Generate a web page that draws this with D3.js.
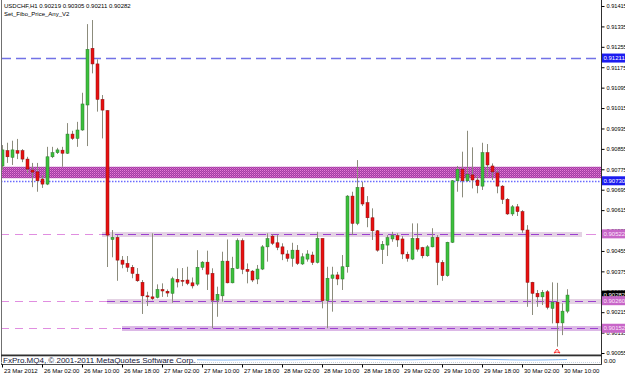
<!DOCTYPE html>
<html>
<head>
<meta charset="utf-8">
<script src="https://cdn.jsdelivr.net/npm/d3@7/dist/d3.min.js"></script>
<style>
  body { margin: 0; background: #fff; }
  svg { display: block; font-family: "Liberation Sans", Arial, sans-serif; }
</style>
</head>
<body>
<div id="chart"></div>
<script>
// USDCHF H1 bars, 23 Mar 18:00 .. 30 Mar 11:00
const opens = [
  0.90788, 0.90848, 0.90822, 0.90848, 0.90848, 0.90815, 0.90772, 0.90765, 0.90737, 0.90717,
  0.90824, 0.90840, 0.90850, 0.90838, 0.90913, 0.90896, 0.90929, 0.91027, 0.91249, 0.91188,
  0.91049, 0.91005, 0.90500, 0.90508, 0.90419, 0.90406, 0.90391, 0.90364, 0.90332, 0.90279,
  0.90275, 0.90273, 0.90304, 0.90297, 0.90289, 0.90344, 0.90340, 0.90341, 0.90330, 0.90325,
  0.90391, 0.90411, 0.90367, 0.90262, 0.90279, 0.90415, 0.90330, 0.90387, 0.90495, 0.90383,
  0.90376, 0.90345, 0.90384, 0.90471, 0.90513, 0.90487, 0.90471, 0.90443, 0.90426, 0.90458,
  0.90404, 0.90423, 0.90439, 0.90410, 0.90504, 0.90260, 0.90348, 0.90361, 0.90345, 0.90393,
  0.90670, 0.90563, 0.90704, 0.90644, 0.90585, 0.90534, 0.90461, 0.90478, 0.90502, 0.90515,
  0.90502, 0.90442, 0.90423, 0.90504, 0.90468, 0.90436, 0.90471, 0.90508, 0.90410, 0.90358,
  0.90489, 0.90730, 0.90775, 0.90730, 0.90753, 0.90733, 0.90709, 0.90840, 0.90788, 0.90761,
  0.90709, 0.90657, 0.90600, 0.90628, 0.90609, 0.90537, 0.90332, 0.90289, 0.90275, 0.90295,
  0.90230, 0.90254, 0.90173, 0.90219
]
const highs = [
  0.90870, 0.90879, 0.90887, 0.90894, 0.90854, 0.90824, 0.90800, 0.90800, 0.90752, 0.90863,
  0.90863, 0.90859, 0.90863, 0.90956, 0.90926, 0.90961, 0.91075, 0.91344, 0.91360, 0.91206,
  0.91066, 0.91007, 0.90537, 0.90517, 0.90435, 0.90435, 0.90400, 0.90388, 0.90341, 0.90295,
  0.90524, 0.90324, 0.90328, 0.90304, 0.90354, 0.90387, 0.90388, 0.90393, 0.90351, 0.90458,
  0.90415, 0.90456, 0.90387, 0.90315, 0.90452, 0.90500, 0.90432, 0.90504, 0.90504, 0.90406,
  0.90380, 0.90400, 0.90478, 0.90524, 0.90521, 0.90517, 0.90485, 0.90458, 0.90487, 0.90478,
  0.90446, 0.90458, 0.90452, 0.90530, 0.90504, 0.90393, 0.90393, 0.90373, 0.90439, 0.90674,
  0.90687, 0.90811, 0.90726, 0.90670, 0.90622, 0.90537, 0.90494, 0.90517, 0.90530, 0.90524,
  0.90513, 0.90452, 0.90563, 0.90563, 0.90471, 0.90478, 0.90544, 0.90517, 0.90419, 0.90491,
  0.90733, 0.90788, 0.90844, 0.90926, 0.90861, 0.90749, 0.90879, 0.90874, 0.90798, 0.90772,
  0.90713, 0.90662, 0.90635, 0.90639, 0.90615, 0.90556, 0.90334, 0.90302, 0.90302, 0.90302,
  0.90332, 0.90330, 0.90250, 0.90305
]
const lows = [
  0.90772, 0.90800, 0.90792, 0.90815, 0.90803, 0.90760, 0.90705, 0.90687, 0.90702, 0.90713,
  0.90819, 0.90835, 0.90785, 0.90835, 0.90890, 0.90863, 0.90926, 0.90866, 0.91151, 0.91001,
  0.90896, 0.90392, 0.90430, 0.90338, 0.90387, 0.90373, 0.90348, 0.90334, 0.90208, 0.90239,
  0.90262, 0.90269, 0.90275, 0.90275, 0.90252, 0.90312, 0.90317, 0.90321, 0.90308, 0.90318,
  0.90380, 0.90302, 0.90152, 0.90197, 0.90256, 0.90328, 0.90328, 0.90384, 0.90364, 0.90328,
  0.90333, 0.90325, 0.90380, 0.90413, 0.90478, 0.90458, 0.90419, 0.90413, 0.90393, 0.90400,
  0.90400, 0.90413, 0.90400, 0.90406, 0.90230, 0.90152, 0.90217, 0.90321, 0.90302, 0.90370,
  0.90517, 0.90556, 0.90631, 0.90548, 0.90498, 0.90452, 0.90404, 0.90435, 0.90491, 0.90471,
  0.90423, 0.90413, 0.90419, 0.90452, 0.90426, 0.90432, 0.90469, 0.90321, 0.90338, 0.90354,
  0.90486, 0.90687, 0.90665, 0.90726, 0.90700, 0.90681, 0.90694, 0.90746, 0.90733, 0.90681,
  0.90639, 0.90596, 0.90592, 0.90592, 0.90526, 0.90236, 0.90204, 0.90236, 0.90243, 0.90226,
  0.90171, 0.90080, 0.90125, 0.90211
]
const closes = [
  0.90851, 0.90824, 0.90851, 0.90838, 0.90815, 0.90776, 0.90764, 0.90730, 0.90717, 0.90824,
  0.90840, 0.90851, 0.90838, 0.90913, 0.90896, 0.90929, 0.91031, 0.91245, 0.91188, 0.91049,
  0.91007, 0.90517, 0.90508, 0.90419, 0.90403, 0.90391, 0.90367, 0.90338, 0.90279, 0.90275,
  0.90268, 0.90304, 0.90298, 0.90290, 0.90346, 0.90333, 0.90336, 0.90328, 0.90318, 0.90391,
  0.90411, 0.90364, 0.90262, 0.90285, 0.90415, 0.90330, 0.90387, 0.90495, 0.90383, 0.90375,
  0.90341, 0.90384, 0.90471, 0.90503, 0.90485, 0.90469, 0.90443, 0.90426, 0.90458, 0.90406,
  0.90432, 0.90443, 0.90410, 0.90504, 0.90260, 0.90348, 0.90361, 0.90345, 0.90393, 0.90670,
  0.90563, 0.90704, 0.90639, 0.90585, 0.90534, 0.90458, 0.90481, 0.90507, 0.90515, 0.90498,
  0.90443, 0.90426, 0.90504, 0.90462, 0.90436, 0.90471, 0.90508, 0.90410, 0.90358, 0.90489,
  0.90730, 0.90775, 0.90730, 0.90755, 0.90733, 0.90711, 0.90840, 0.90792, 0.90765, 0.90709,
  0.90657, 0.90600, 0.90628, 0.90609, 0.90537, 0.90332, 0.90289, 0.90275, 0.90293, 0.90234,
  0.90254, 0.90173, 0.90219, 0.90282
]

const timeTickBars = [0, 8, 16, 24, 32, 40, 48, 56, 64, 72, 80, 88, 96, 104, 112]
const timeLabels = ["23 Mar 2012", "26 Mar 02:00", "26 Mar 10:00", "26 Mar 18:00", "27 Mar 02:00",
  "27 Mar 10:00", "27 Mar 18:00", "28 Mar 02:00", "28 Mar 10:00", "28 Mar 18:00", "29 Mar 02:00",
  "29 Mar 10:00", "29 Mar 18:00", "30 Mar 02:00", "30 Mar 10:00"]

const priceTicks = [0.91415, 0.91335, 0.91255, 0.91175, 0.91095, 0.91015, 0.90935, 0.90855, 0.90775,
  0.90695, 0.90615, 0.90535, 0.90455, 0.90375, 0.90295, 0.90215, 0.90135, 0.90055]

// Set_Fibo_Price_Any levels
const zoneTop = 0.90785
const zoneBottom = 0.90740
const blueDashPrice = 0.91211
const blueDotPrice = 0.90730
const fiboPrices = [0.90522, 0.90260, 0.90152]
const fiboStartBars = [20, 21, 24]
const fiboEndBars = [116, 120, 120]
const bidPrice = 0.90282

// indicator sub-window (readings)
const indBars = [39, 45, 52, 58, 64, 70, 76, 82, 88, 94, 100, 106, 113]
const indValues = [0.45, 0.35, 0.5, 0.4, 0.55, 0.65, 0.45, 0.4, 0.6, 0.65, 0.45, 0.35, 0.5]

const W = 625, H = 375
const plotLeft = 1, plotRight = 601, plotBottom = 355

const svg = d3.select("#chart")
  .append("svg")
  .attr("width", W)
  .attr("height", H)

svg.append("rect").attr("width", W).attr("height", H).attr("fill", "#fff")

const defs = svg.append("defs")
const pat = defs.append("pattern")
  .attr("id", "zonePat")
  .attr("width", 2).attr("height", 2)
  .attr("patternUnits", "userSpaceOnUse")
pat.append("rect").attr("width", 2).attr("height", 2).attr("fill", "#a23ea4")
pat.append("rect").attr("width", 1).attr("height", 1).attr("fill", "#e67ad6")
pat.append("rect").attr("x", 1).attr("y", 1).attr("width", 1).attr("height", 1).attr("fill", "#c257bb")

defs.append("clipPath").attr("id", "plotClip")
  .append("rect")
  .attr("x", plotLeft).attr("y", 0)
  .attr("width", plotRight - plotLeft).attr("height", plotBottom)

const x = d3.scaleLinear().domain([0, 113]).range([2, 567])
const y = d3.scaleLinear().domain([0.90055, 0.91415]).range([353, 6])

const plot = svg.append("g").attr("clip-path", "url(#plotClip)")

// resistance zone
plot.append("rect")
  .attr("x", plotLeft)
  .attr("y", y(zoneTop))
  .attr("width", plotRight - plotLeft)
  .attr("height", y(zoneBottom) - y(zoneTop))
  .attr("fill", "url(#zonePat)")

plot.append("line")
  .attr("x1", plotLeft).attr("x2", plotRight)
  .attr("y1", Math.round(y(blueDotPrice)) + 0.5).attr("y2", Math.round(y(blueDotPrice)) + 0.5)
  .attr("stroke", "#6a6aff").attr("stroke-width", 1.6)
  .attr("stroke-dasharray", "1.5,1.5")

plot.append("line")
  .attr("x1", plotLeft).attr("x2", plotRight)
  .attr("y1", Math.round(y(blueDashPrice)) + 0.5).attr("y2", Math.round(y(blueDashPrice)) + 0.5)
  .attr("stroke", "#7272e6").attr("stroke-width", 1.3)
  .attr("stroke-dasharray", "10,5")

// fibo levels: thin pink dashes, then banded purple dashes
fiboPrices.forEach((p, k) => {
  const yy = Math.round(y(p)) + 0.5
  const xs = x(fiboStartBars[k])
  const xe = Math.min(x(fiboEndBars[k]), plotRight)
  plot.append("line")
    .attr("x1", plotLeft).attr("x2", xs)
    .attr("y1", yy).attr("y2", yy)
    .attr("stroke", "#e08ee0").attr("stroke-width", 1)
    .attr("stroke-dasharray", "8,6")
  plot.append("rect")
    .attr("x", xs).attr("y", yy - 2.5)
    .attr("width", xe - xs).attr("height", 5)
    .attr("fill", k === 2 ? "#dcb8e6" : "#e4d2e4")
  plot.append("line")
    .attr("x1", xs).attr("x2", xe)
    .attr("y1", yy).attr("y2", yy)
    .attr("stroke", "#9b3fd0").attr("stroke-width", 1.2)
    .attr("stroke-dasharray", "8,5")
  if (xe < plotRight) {
    plot.append("line")
      .attr("x1", xe + 4).attr("x2", plotRight)
      .attr("y1", yy).attr("y2", yy)
      .attr("stroke", "#e08ee0").attr("stroke-width", 1)
      .attr("stroke-dasharray", "10,6")
  }
})

// candles
const bars = d3.range(opens.length)
const up = i => closes[i] >= opens[i]

plot.selectAll(".wick")
  .data(bars)
  .join("line")
  .attr("class", "wick")
  .attr("x1", i => Math.round(x(i)) + 0.5)
  .attr("x2", i => Math.round(x(i)) + 0.5)
  .attr("y1", i => y(highs[i]))
  .attr("y2", i => y(lows[i]))
  .attr("stroke", "#8c8c7c")
  .attr("stroke-width", 1)

plot.selectAll(".body")
  .data(bars)
  .join("rect")
  .attr("class", "body")
  .attr("x", i => Math.round(x(i)) - 1)
  .attr("y", i => y(Math.max(opens[i], closes[i])))
  .attr("width", 3)
  .attr("height", i => Math.max(1, y(Math.min(opens[i], closes[i])) - y(Math.max(opens[i], closes[i]))))
  .attr("fill", i => up(i) ? "#3cc03c" : "#e81010")
  .attr("stroke", i => up(i) ? "#2a7a2a" : "#8a1010")
  .attr("stroke-width", 0.5)

// arrow marker under the low
plot.append("path")
  .attr("d", `M${x(111) - 3},${plotBottom - 2} L${x(111)},${plotBottom - 6} L${x(111) + 3},${plotBottom - 2} L${x(111)},${plotBottom - 3} Z`)
  .attr("fill", "none")
  .attr("stroke", "#ff2020")
  .attr("stroke-width", 0.9)

// frame
svg.append("line")
  .attr("x1", plotLeft + 0.5).attr("x2", plotLeft + 0.5)
  .attr("y1", 0).attr("y2", 364)
  .attr("stroke", "#707070")
svg.append("line")
  .attr("x1", plotRight + 0.5).attr("x2", plotRight + 0.5)
  .attr("y1", 0).attr("y2", 364)
  .attr("stroke", "#303030")
svg.append("rect")
  .attr("x", plotLeft).attr("y", plotBottom - 0.5)
  .attr("width", plotRight - plotLeft + 1).attr("height", 1.8)
  .attr("fill", "#303030")
svg.append("line")
  .attr("x1", plotLeft).attr("x2", plotRight + 1)
  .attr("y1", 364.5).attr("y2", 364.5)
  .attr("stroke", "#505050")

// header
svg.append("text")
  .attr("x", 4).attr("y", 8.2)
  .style("font-size", "6px")
  .text("USDCHF,H1  0.90219 0.90305 0.90211 0.90282")
svg.append("text")
  .attr("x", 4).attr("y", 16.2)
  .style("font-size", "6px")
  .text("Set_Fibo_Price_Any_V2")

// price axis
svg.append("g")
  .attr("transform", `translate(${plotRight + 0.5},0)`)
  .style("font-size", "5.6px")
  .call(d3.axisRight(y)
    .tickValues(priceTicks)
    .tickFormat(d3.format(".5f"))
    .tickSize(3)
    .tickPadding(2))
  .call(g => g.select(".domain").remove())
  .call(g => g.selectAll("text").attr("fill", "#000").style("font-family", "Liberation Sans, Arial, sans-serif"))
  .call(g => g.selectAll("line").attr("stroke", "#000"))

// highlighted price labels
const tags = [
  { p: blueDashPrice, bg: "#1c1cf0", fg: "#fff" },
  { p: blueDotPrice, bg: "#1c1cf0", fg: "#fff" },
  { p: fiboPrices[0], bg: "#c866c8", fg: "#fbe6fb" },
  { p: bidPrice, bg: "#000", fg: "#fff" },
  { p: fiboPrices[1], bg: "#c866c8", fg: "#fbe6fb" },
  { p: fiboPrices[2], bg: "#c866c8", fg: "#fbe6fb" }
]
tags.forEach(t => {
  const yy = y(t.p)
  svg.append("rect")
    .attr("x", 602).attr("y", yy - 4.5)
    .attr("width", 23).attr("height", 9)
    .attr("fill", t.bg)
  svg.append("text")
    .attr("x", 603.5).attr("y", yy + 2.2)
    .attr("fill", t.fg)
    .style("font-size", "6px")
    .text(d3.format(".5f")(t.p))
})

// indicator sub-window
const yi = d3.scaleLinear().domain([0, 1]).range([362, 357])
svg.append("path")
  .datum(indBars)
  .attr("fill", "none")
  .attr("stroke", "#6aa8f0")
  .attr("stroke-width", 0.8)
  .attr("d", d3.line().x(i => x(i)).y((i, k) => yi(indValues[k])).curve(d3.curveBasis))
svg.append("line")
  .attr("x1", plotLeft).attr("x2", plotRight)
  .attr("y1", 362.5).attr("y2", 362.5)
  .attr("stroke", "#b8c8d8").attr("stroke-width", 0.8)
  .attr("stroke-dasharray", "1,1")
svg.append("text")
  .attr("x", 3).attr("y", 363.3)
  .attr("fill", "#20203a")
  .style("font-size", "8px")
  .text("FxPro.MQ4, \u00a9 2001-2011 MetaQuotes Software Corp.")
svg.append("text")
  .attr("x", 604).attr("y", 363)
  .style("font-size", "6px")
  .text("0.00")

// time axis
svg.append("g")
  .attr("transform", "translate(0,364.5)")
  .style("font-size", "6px")
  .call(d3.axisBottom(x)
    .tickValues(timeTickBars)
    .tickFormat((d, k) => timeLabels[k])
    .tickSize(3)
    .tickPadding(1))
  .call(g => g.select(".domain").remove())
  .call(g => g.selectAll("text")
    .attr("text-anchor", "start")
    .attr("dx", "1.5")
    .attr("fill", "#000")
    .style("font-family", "Liberation Sans, Arial, sans-serif"))
  .call(g => g.selectAll("line").attr("stroke", "#000"))
</script>
</body>
</html>
